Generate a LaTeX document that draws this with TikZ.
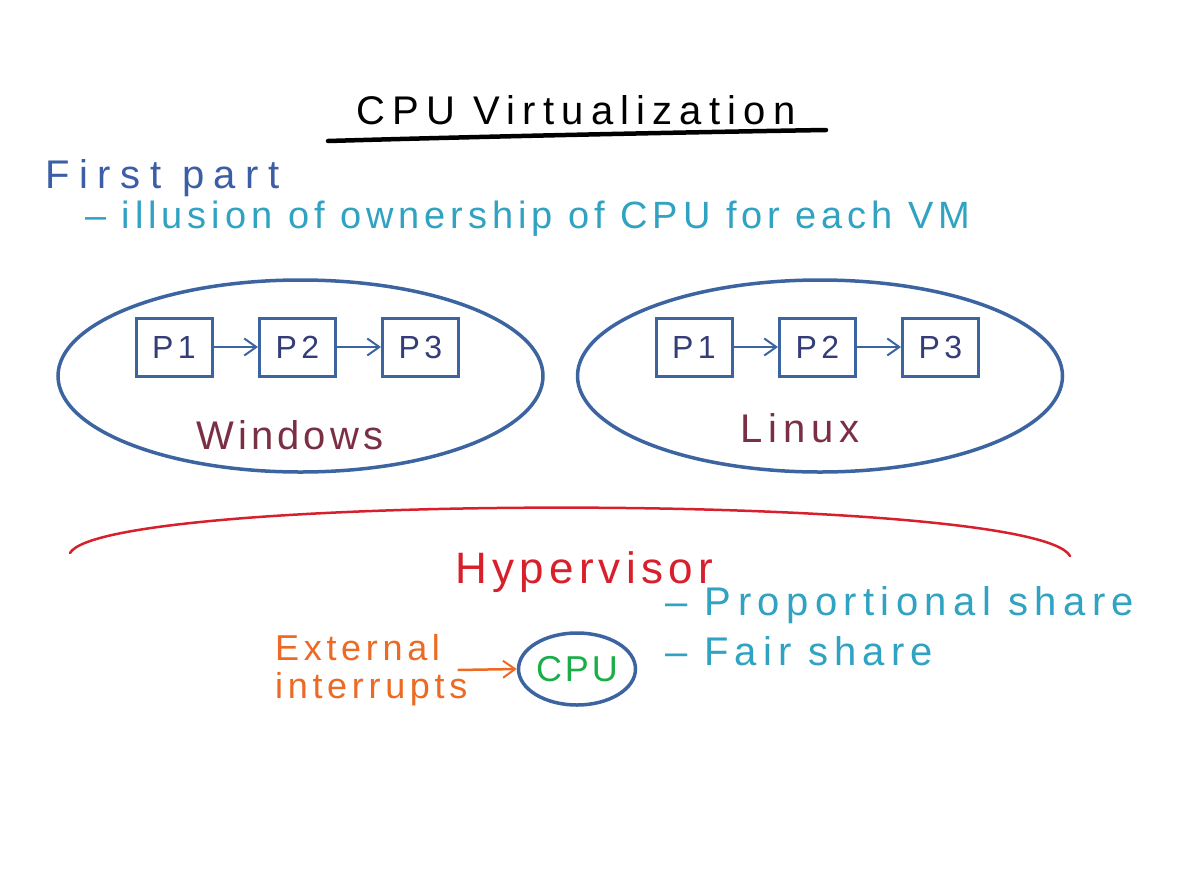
\documentclass[tikz,border=0pt]{standalone}
\usepackage{fontspec}
\setmainfont{Liberation Sans}
\usetikzlibrary{arrows.meta,shapes.geometric}
\definecolor{vmblue}{HTML}{3C64A0}
\definecolor{pnavy}{HTML}{353D78}
\definecolor{partblue}{HTML}{3B5EA6}
\definecolor{tealc}{HTML}{30A2C2}
\definecolor{osred}{HTML}{7B2F45}
\definecolor{hypred}{HTML}{D8202C}
\definecolor{orangec}{HTML}{EC6A24}
\definecolor{greenc}{HTML}{1AAE48}
\newcommand{\hw}[2]{\fontsize{#1}{1.05\dimexpr #1pt\relax}\selectfont\addfontfeature{LetterSpace=#2}}
\begin{document}
\begin{tikzpicture}[x=1pt,y=-1pt,
  vm/.style={draw=vmblue,line width=3.5pt,ellipse,minimum width=485pt,minimum height=192pt,inner sep=0pt},
  proc/.style={draw=vmblue,line width=3pt,minimum width=76pt,minimum height=58pt,inner sep=0pt,text=pnavy,font=\hw{32}{14}},
  tip/.style={-{Straight Barb[length=12pt,width=17pt,line width=2pt]}},
  parrow/.style={draw=vmblue,line width=2pt,tip},
  oslabel/.style={text=osred,font=\hw{40}{10}},
  tealtext/.style={text=tealc,anchor=base west,inner sep=0pt}]
\useasboundingbox[fill=white] (0,0) rectangle (1194,881);

% title
\node[anchor=base,inner sep=0pt,font=\hw{40}{18}] (title) at (576,124) {CPU Virtualization};
\draw[line width=4.5pt,line cap=round] (328,141) .. controls (500,136) and (700,132) .. (826,130);

% first part
\node[anchor=base west,inner sep=0pt,text=partblue,font=\hw{40}{24}] (first) at (45,188) {First part};
\node[tealtext,font=\hw{38}{13}] (illusion) at (85,228) {– illusion of ownership of CPU for each VM};

% Windows VM
\node[vm] (win) at (300.5,376) {};
\node[proc] (wp1) at (174,347) {P1};
\node[proc] (wp2) at (297.5,347) {P2};
\node[proc] (wp3) at (420.5,347) {P3};
\draw[parrow] (wp1) -- (wp2);
\draw[parrow] (wp2) -- (wp3);
\node[oslabel] (winlabel) at (290,435) {Windows};

% Linux VM
\node[vm] (lin) at (820,376) {};
\node[proc] (lp1) at (694,347) {P1};
\node[proc] (lp2) at (817.5,347) {P2};
\node[proc] (lp3) at (940.5,347) {P3};
\draw[parrow] (lp1) -- (lp2);
\draw[parrow] (lp2) -- (lp3);
\node[oslabel,font=\hw{40}{15}] (linlabel) at (800,428) {Linux};

% hypervisor arc
\draw[hypred,line width=2.5pt,line cap=round] (70,553) .. controls (105,492) and (1035,492) .. (1070,556);
\node[anchor=base west,inner sep=0pt,text=hypred,font=\hw{44}{12}] (hyp) at (455,583) {Hypervisor};
\node[tealtext,font=\hw{40}{16}] (prop) at (665,615) {– Proportional share};
\node[tealtext,font=\hw{40}{15}] (fair) at (665,665) {– Fair share};

% CPU
\node[draw=vmblue,line width=3.5pt,ellipse,minimum width=117pt,minimum height=72pt,inner sep=0pt,text=greenc,font=\hw{36}{8}] (cpu) at (577,669) {CPU};
\node[anchor=west,inner sep=0pt,align=left,text=orangec,font=\hw{36}{13}] (ext) at (275,670) {External\\interrupts};
\draw[orangec,line width=2.5pt,tip] ([xshift=-10pt]ext.east) -- (cpu.west);
\end{tikzpicture}
\end{document}
